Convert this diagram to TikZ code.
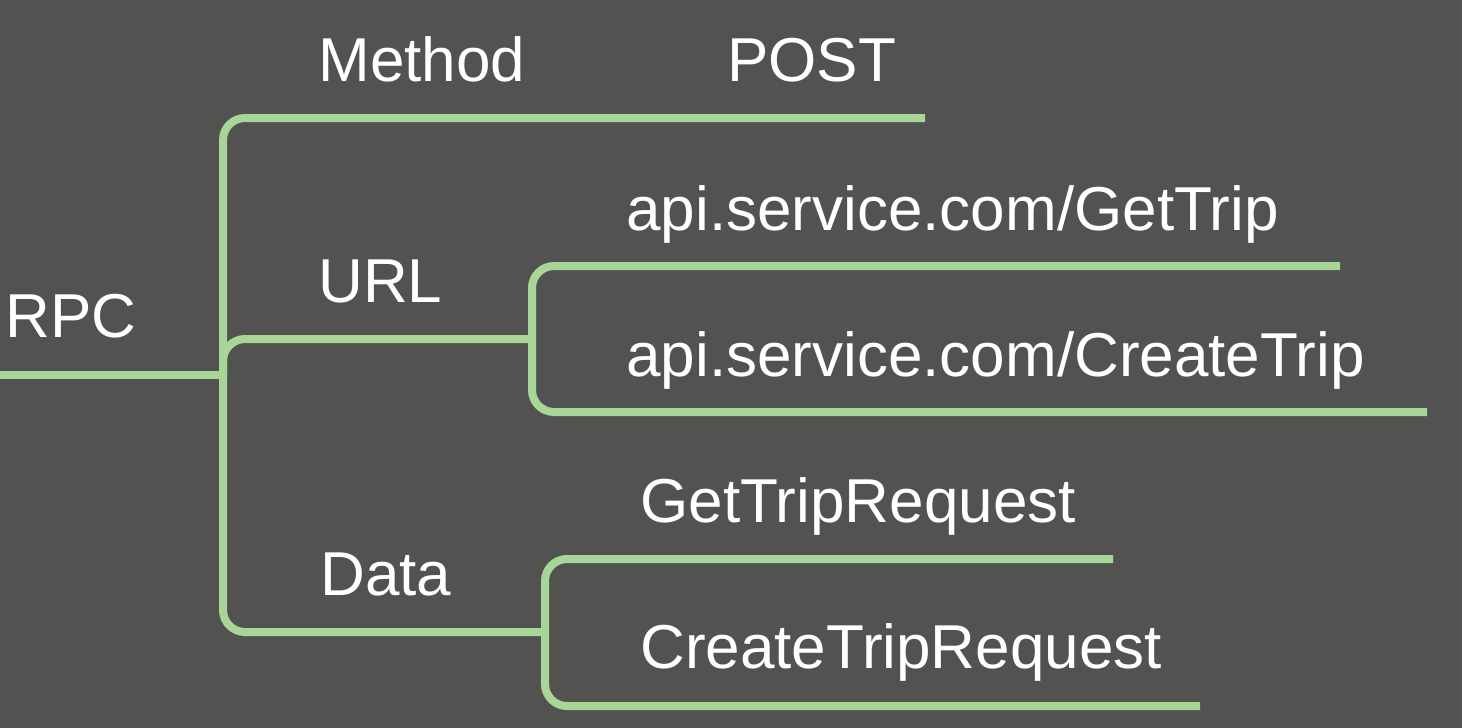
\documentclass[tikz,border=0pt]{standalone}
\usepackage{fontspec}
\setmainfont{Liberation Sans}
\definecolor{slide}{HTML}{525351}
\definecolor{leaf}{HTML}{A8D696}

\begin{document}
\begin{tikzpicture}[
    % One unit is one pixel of the slide; y grows downwards.
    x={(0.5pt,0pt)},
    y={(0pt,-0.5pt)}
]
    % --- Style Definitions ---
    % 'branch' is a thick green line with rounded bends.
    % 'label' is white text sitting on its baseline.
    \tikzstyle{branch} = [draw, leaf, line width=4pt, rounded corners=11pt]
    \tikzstyle{label} = [anchor=base west, inner sep=0pt, text=white,
        font=\fontsize{31}{37}\selectfont]

    % --- Background ---
    \fill[slide] (0,0) rectangle (1462,728);
    \useasboundingbox (0,0) rectangle (1462,728);

    % --- Branch Points ---
    \coordinate (root) at (0,375);
    \coordinate (hub) at (223,375);
    \coordinate (urlhub) at (532,339);
    \coordinate (datahub) at (545,632);

    % --- Line Ends ---
    \coordinate (postend) at (925,118);
    \coordinate (getend) at (1340,266);
    \coordinate (createend) at (1427,412);
    \coordinate (getreqend) at (1113,559);
    \coordinate (createreqend) at (1200,706);

    % --- Draw Branches ---
    \draw[branch] (root) -- (hub);
    \draw[branch] (hub) |- (postend);
    \draw[branch] (hub) |- (urlhub);
    \draw[branch] (hub) |- (datahub);
    \draw[branch] (urlhub) |- (getend);
    \draw[branch] (urlhub) |- (createend);
    \draw[branch] (datahub) |- (getreqend);
    \draw[branch] (datahub) |- (createreqend);

    % --- Labels ---
    \node[label] (rpc) at (5,337) {RPC};
    \node[label] (method) at (318,81) {Method};
    \node[label] (post) at (727,81) {POST};
    \node[label] (url) at (318,302) {URL};
    \node[label] (data) at (320,595) {Data};
    \node[label] (gettrip) at (626,230) {api.service.com/GetTrip};
    \node[label] (createtrip) at (626,376) {api.service.com/CreateTrip};
    \node[label] (getreq) at (640,522) {GetTripRequest};
    \node[label] (createreq) at (640,668) {CreateTripRequest};
\end{tikzpicture}
\end{document}
